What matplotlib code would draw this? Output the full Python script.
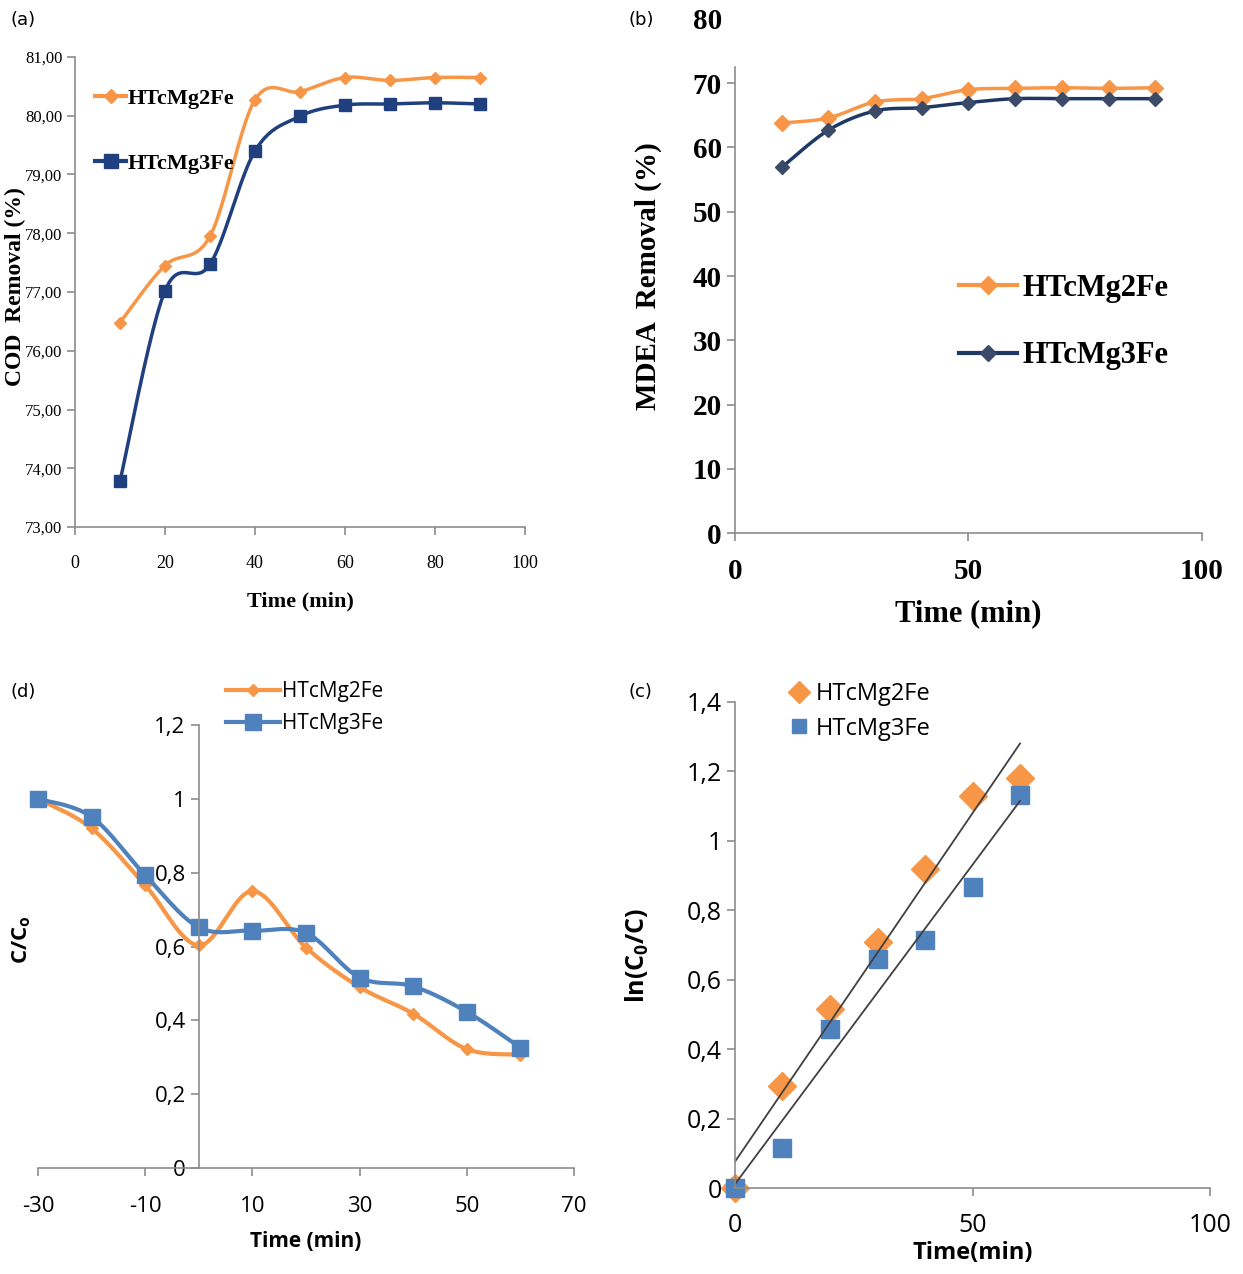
import numpy as np
import matplotlib
matplotlib.use("Agg")
import matplotlib.pyplot as plt

# ---- data ----
# (a) COD removal
time_a = [10, 20, 30, 40, 50, 60, 70, 80, 90]
cod_mg2 = [76.48, 77.45, 77.95, 80.27, 80.41, 80.65, 80.60, 80.65, 80.65]
cod_mg3 = [73.78, 77.02, 77.47, 79.40, 79.99, 80.18, 80.20, 80.22, 80.20]

# (b) MDEA removal
time_b = [10, 20, 30, 40, 50, 60, 70, 80, 90]
mdea_mg2 = [63.8, 64.6, 67.1, 67.6, 69.0, 69.2, 69.3, 69.2, 69.3]
mdea_mg3 = [56.9, 62.7, 65.7, 66.2, 67.0, 67.6, 67.6, 67.6, 67.6]

# (d) C/Co
time_d = [-30, -20, -10, 0, 10, 20, 30, 40, 50, 60]
cc_mg2 = [1.0, 0.92, 0.766, 0.603, 0.75, 0.597, 0.49, 0.418, 0.322, 0.307]
cc_mg3 = [1.0, 0.951, 0.793, 0.652, 0.643, 0.637, 0.516, 0.492, 0.423, 0.326]

# (c) ln(Co/C)
time_c = [0, 10, 20, 30, 40, 50, 60]
ln_mg2 = [0.0, 0.293, 0.516, 0.708, 0.919, 1.129, 1.182]
ln_mg3 = [0.0, 0.115, 0.457, 0.660, 0.713, 0.866, 1.131]

labels = ['HTcMg2Fe', 'HTcMg3Fe']

ORANGE = '#F79646'
NAVY = '#1F3F7F'
NAVY_B = '#1F3864'
BLUE = '#4F81BD'
GRAY = '#8C8C8C'


def smooth(x, y, n=25):
    # Excel style smoothed line (bezier through the points)
    x = np.asarray(x, float)
    y = np.asarray(y, float)
    p = np.column_stack([x, y])
    pts = []
    for i in range(len(p) - 1):
        p0 = p[i - 1] if i > 0 else p[i]
        p3 = p[i + 2] if i + 2 < len(p) else p[i + 1]
        c1 = p[i] + (p[i + 1] - p0) / 6
        c2 = p[i + 1] - (p3 - p[i]) / 6
        t = np.linspace(0, 1, n)[:, None]
        seg = ((1 - t) ** 3 * p[i] + 3 * (1 - t) ** 2 * t * c1
               + 3 * (1 - t) * t ** 2 * c2 + t ** 3 * p[i + 1])
        pts.append(seg if i == 0 else seg[1:])
    pts = np.vstack(pts)
    return pts[:, 0], pts[:, 1]


def comma(v, nd):
    s = f'{v:.{nd}f}' if nd else f'{v:g}'
    return s.replace('.', ',')


def style_axes(ax):
    for s in ['top', 'right']:
        ax.spines[s].set_visible(False)
    for s in ['left', 'bottom']:
        ax.spines[s].set_color(GRAY)
        ax.spines[s].set_linewidth(1.2)
    ax.tick_params(colors=GRAY, length=6, width=1.2, labelcolor='black')


fig = plt.figure(figsize=(12.43, 12.74), dpi=100)

# ---------------- (a) ----------------
serif = 'Liberation Serif'
ax = fig.add_axes([0.0603, 0.5863, 0.3621, 0.369])
style_axes(ax)
xs, ys = smooth(time_a, cod_mg2)
ax.plot(xs, ys, color=ORANGE, lw=2.5)
ax.plot(time_a, cod_mg2, 'D', color=ORANGE, ms=6, ls='none')
xs, ys = smooth(time_a, cod_mg3)
ax.plot(xs, ys, color=NAVY, lw=2.5)
ax.plot(time_a, cod_mg3, 's', color=NAVY, ms=9, ls='none')
ax.plot([], [], color=ORANGE, lw=3, marker='D', ms=7, label=labels[0])
ax.plot([], [], color=NAVY, lw=3, marker='s', ms=10, label=labels[1])
ax.set_xlim(0, 100)
ax.set_ylim(73, 81)
ax.set_xticks(range(0, 101, 20))
ax.set_yticks(range(73, 82))
ax.set_yticklabels([comma(v, 2) for v in range(73, 82)], family=serif, fontsize=12)
ax.set_xticklabels([str(v) for v in range(0, 101, 20)], family=serif, fontsize=13)
ax.tick_params(axis='x', pad=14)
ax.tick_params(axis='y', pad=3)
ax.set_xlabel('Time (min)', family=serif, fontweight='bold', fontsize=16, labelpad=14)
fig.text(15 / 1243, 1 - 287 / 1274, 'COD  Removal (%)', rotation=90, va='center', ha='center',
         family=serif, fontweight='bold', fontsize=17)
ax.legend(loc='upper left', bbox_to_anchor=(0.0, 0.975), frameon=False,
          prop={'family': serif, 'weight': 'bold', 'size': 16},
          handlelength=1.4, handletextpad=0.05, labelspacing=2.0)

# ---------------- (b) ----------------
ax = fig.add_axes([0.5913, 0.5816, 0.3757, 0.4035])
style_axes(ax)
xs, ys = smooth(time_b, mdea_mg2)
ax.plot(xs, ys, color=ORANGE, lw=2.5)
ax.plot(time_b, mdea_mg2, 'D', color=ORANGE, ms=8, ls='none')
xs, ys = smooth(time_b, mdea_mg3)
ax.plot(xs, ys, color=NAVY_B, lw=2.5)
ax.plot(time_b, mdea_mg3, 'D', color='#3A4A68', ms=7, ls='none')
ax.plot([], [], color=ORANGE, lw=3, marker='D', ms=9, label=labels[0])
ax.plot([], [], color=NAVY_B, lw=3, marker='D', mfc='#3A4A68', mec='#3A4A68', ms=8, label=labels[1])
ax.set_xlim(0, 100)
ax.set_ylim(0, 80)
ax.spines['left'].set_bounds(0, 72.5)
ax.set_xticks([0, 50, 100])
ax.set_yticks(range(0, 81, 10))
ax.yaxis.get_major_ticks()[-1].tick1line.set_visible(False)
for lab in ax.get_xticklabels() + ax.get_yticklabels():
    lab.set_family(serif)
    lab.set_fontweight('bold')
    lab.set_fontsize(21)
ax.tick_params(axis='x', pad=12)
ax.set_xlabel('Time (min)', family=serif, fontweight='bold', fontsize=22, labelpad=10)
ax.set_ylabel('MDEA  Removal (%)', family=serif, fontweight='bold', fontsize=21, labelpad=22)
ax.legend(loc='center left', bbox_to_anchor=(0.42, 0.41), frameon=False,
          prop={'family': serif, 'weight': 'bold', 'size': 22},
          handlelength=1.9, handletextpad=0.2, labelspacing=1.25)

# ---------------- (d) ----------------
sans = 'Open Sans'
ax = fig.add_axes([0.0306, 0.0832, 0.4312, 0.3477])
style_axes(ax)
ax.spines['left'].set_position(('data', 0))
xs, ys = smooth(time_d, cc_mg2)
ax.plot(xs, ys, color=ORANGE, lw=3, clip_on=False)
ax.plot(time_d, cc_mg2, 'D', color=ORANGE, ms=6, ls='none', clip_on=False)
xs, ys = smooth(time_d, cc_mg3)
ax.plot(xs, ys, color=BLUE, lw=3, clip_on=False)
ax.plot(time_d, cc_mg3, 's', color=BLUE, ms=11, ls='none', clip_on=False)
ax.plot([], [], color=ORANGE, lw=3, marker='D', ms=6, label=labels[0])
ax.plot([], [], color=BLUE, lw=3, marker='s', ms=11, label=labels[1])
ax.set_xlim(-30, 70)
ax.set_ylim(0, 1.2)
ax.set_xticks(range(-30, 71, 20))
yt = [0, 0.2, 0.4, 0.6, 0.8, 1.0, 1.2]
ax.set_yticks(yt)
ax.set_yticklabels([comma(v, 0) if v in (0, 1) else comma(v, 1) for v in yt],
                   family=sans, fontsize=16)
ax.set_xticklabels([str(v) for v in range(-30, 71, 20)], family=sans, fontsize=16)
ax.tick_params(axis='x', pad=14)
ax.set_xlabel('Time (min)', family=sans, fontweight='bold', fontsize=15, labelpad=10)
fig.text(22 / 1243, 1 - 940 / 1274, 'C/C$_\\mathregular{o}$', rotation=90, va='center', ha='center',
         family=sans, fontweight='bold', fontsize=16)
ax.legend(loc='lower left', bbox_to_anchor=(0.335, 0.96), frameon=False,
          prop={'family': sans, 'size': 15}, handlelength=2.6, handletextpad=0.1,
          labelspacing=0.55, borderaxespad=0)

# ---------------- (c) ----------------
ax = fig.add_axes([0.5913, 0.0675, 0.3822, 0.3815])
style_axes(ax)
ax.plot(time_c, ln_mg2, 'D', color=ORANGE, ms=14, ls='none', label=labels[0], clip_on=False)
ax.plot(time_c, ln_mg3, 's', color=BLUE, ms=13, ls='none', label=labels[1], clip_on=False)
for y in (ln_mg2, ln_mg3):
    k, b = np.polyfit(time_c, y, 1)
    xf = np.array([time_c[0], time_c[-1]])
    ax.plot(xf, k * xf + b, color='#404040', lw=1.3)
ax.set_xlim(0, 100)
ax.set_ylim(0, 1.4)
ax.set_xticks([0, 50, 100])
yt = [0, 0.2, 0.4, 0.6, 0.8, 1.0, 1.2, 1.4]
ax.set_yticks(yt)
ax.set_yticklabels([comma(v, 0) if v in (0, 1) else comma(v, 1) for v in yt],
                   family=sans, fontsize=18)
ax.set_xticklabels(['0', '50', '100'], family=sans, fontsize=18)
ax.tick_params(axis='x', pad=12)
ax.set_xlabel('Time(min)', family=sans, fontweight='bold', fontsize=17, labelpad=2)
fig.text(637 / 1243, 1 - 955 / 1274, 'ln(C$_\\mathregular{0}$/C)', rotation=90, va='center',
         ha='center', family=sans, fontweight='bold', fontsize=18)
ax.legend(loc='upper left', bbox_to_anchor=(0.07, 1.085), frameon=False,
          prop={'family': sans, 'size': 17}, handlelength=0.8, handletextpad=0.3,
          labelspacing=0.45, markerscale=0.8)

# panel letters
for lab, (px, py) in zip(['(a)', '(b)', '(d)', '(c)'],
                         [(10, 20), (628, 20), (10, 692), (628, 692)]):
    fig.text(px / 1243, 1 - py / 1274, lab, fontsize=13, va='center', ha='left')

fig.savefig('out.png', dpi=100)
